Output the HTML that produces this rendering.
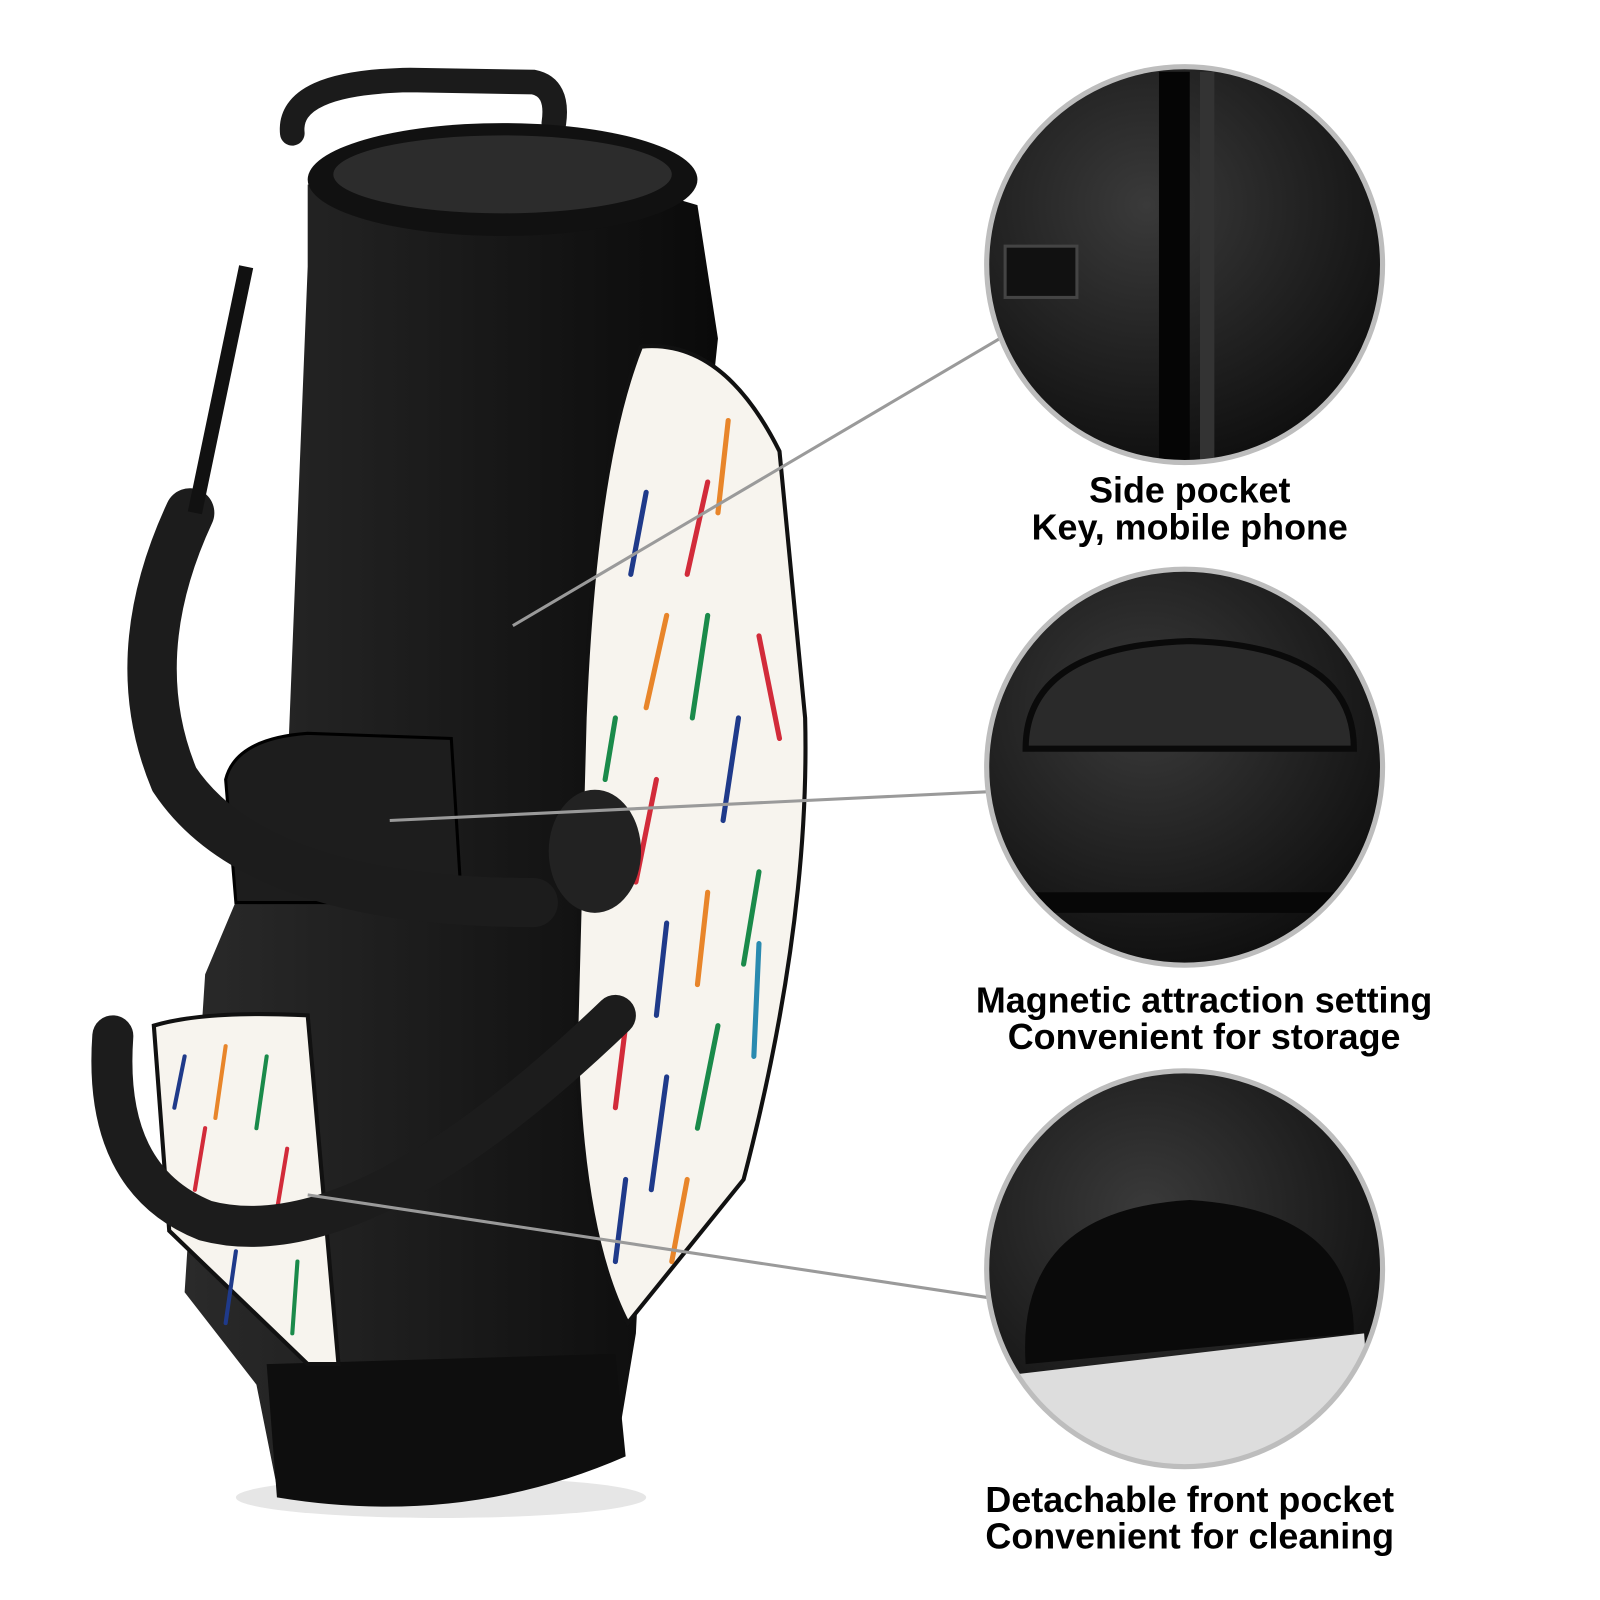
<!DOCTYPE html>
<html><head><meta charset="utf-8"><style>
html,body{margin:0;padding:0;background:#fff;width:1600px;height:1600px;overflow:hidden}
svg{display:block}
text{font-family:"Liberation Sans",sans-serif;font-weight:bold;fill:#000}
</style></head><body>
<svg width="1600" height="1600" viewBox="0 0 1560 1560" xmlns="http://www.w3.org/2000/svg">
<defs>
<radialGradient id="lea" cx="40%" cy="35%" r="70%"><stop offset="0" stop-color="#3a3a3a"/><stop offset="1" stop-color="#0c0c0c"/></radialGradient>
<linearGradient id="body" x1="0" x2="1"><stop offset="0" stop-color="#2a2a2a"/><stop offset="0.5" stop-color="#1a1a1a"/><stop offset="1" stop-color="#0a0a0a"/></linearGradient>
<clipPath id="c1"><circle cx="1155" cy="258" r="193"/></clipPath>
<clipPath id="c2"><circle cx="1155" cy="748" r="193"/></clipPath>
<clipPath id="c3"><circle cx="1155" cy="1237" r="193"/></clipPath>
</defs>
<ellipse cx="430" cy="1460" rx="200" ry="20" fill="#e6e6e6"/>
<path d="M285,130 Q280,80 400,78 L520,80 Q545,85 540,120" fill="none" stroke="#1b1b1b" stroke-width="24" stroke-linecap="round"/>
<path d="M300,180 Q480,140 680,200 L700,330 L640,900 L620,1300 L600,1420 Q450,1480 270,1450 L250,1350 L180,1260 L200,950 L280,760 L300,260 Z" fill="url(#body)"/>
<ellipse cx="490" cy="175" rx="190" ry="55" fill="#111"/>
<ellipse cx="490" cy="170" rx="165" ry="38" fill="#2c2c2c"/>
<path d="M260,1330 L600,1320 L610,1420 Q450,1490 270,1460 Z" fill="#0e0e0e"/>
<path d="M220,760 Q230,720 300,715 L440,720 L450,880 L230,880 Z" fill="#1d1d1d" stroke="#000" stroke-width="3"/>
<path d="M625,338 Q705,330 760,440 L785,700 Q790,900 725,1150 L612,1290 Q565,1200 562,1000 L570,700 Q580,450 625,338 Z" fill="#f7f4ee" stroke="#111" stroke-width="4"/>
<g stroke-width="5" stroke-linecap="round">
<line x1="630" y1="480" x2="615" y2="560" stroke="#1f3a8a"/><line x1="710" y1="410" x2="700" y2="500" stroke="#e8852a"/>
<line x1="690" y1="470" x2="670" y2="560" stroke="#d22b3a"/><line x1="650" y1="600" x2="630" y2="690" stroke="#e8852a"/>
<line x1="690" y1="600" x2="675" y2="700" stroke="#1a8a4a"/><line x1="740" y1="620" x2="760" y2="720" stroke="#d22b3a"/>
<line x1="600" y1="700" x2="590" y2="760" stroke="#1a8a4a"/><line x1="720" y1="700" x2="705" y2="800" stroke="#1f3a8a"/>
<line x1="640" y1="760" x2="620" y2="860" stroke="#d22b3a"/><line x1="740" y1="850" x2="725" y2="940" stroke="#1a8a4a"/>
<line x1="690" y1="870" x2="680" y2="960" stroke="#e8852a"/><line x1="650" y1="900" x2="640" y2="990" stroke="#1f3a8a"/>
<line x1="700" y1="1000" x2="680" y2="1100" stroke="#1a8a4a"/><line x1="610" y1="1000" x2="600" y2="1080" stroke="#d22b3a"/>
<line x1="650" y1="1050" x2="635" y2="1160" stroke="#1f3a8a"/><line x1="740" y1="920" x2="735" y2="1030" stroke="#2a8ab0"/>
<line x1="670" y1="1150" x2="655" y2="1230" stroke="#e8852a"/><line x1="610" y1="1150" x2="600" y2="1230" stroke="#1f3a8a"/>
</g>
<path d="M150,1000 Q200,985 300,990 L330,1330 L300,1330 L165,1200 Z" fill="#f7f4ee" stroke="#111" stroke-width="4"/>
<g stroke-width="4" stroke-linecap="round">
<line x1="180" y1="1030" x2="170" y2="1080" stroke="#1f3a8a"/><line x1="220" y1="1020" x2="210" y2="1090" stroke="#e8852a"/>
<line x1="260" y1="1030" x2="250" y2="1100" stroke="#1a8a4a"/><line x1="200" y1="1100" x2="190" y2="1160" stroke="#d22b3a"/>
<line x1="280" y1="1120" x2="270" y2="1180" stroke="#d22b3a"/><line x1="230" y1="1220" x2="220" y2="1290" stroke="#1f3a8a"/>
<line x1="290" y1="1230" x2="285" y2="1300" stroke="#1a8a4a"/>
</g>
<path d="M185,500 Q120,640 170,760 Q250,880 520,880" fill="none" stroke="#1c1c1c" stroke-width="48" stroke-linecap="round"/>
<path d="M110,1010 Q100,1150 200,1190 Q350,1230 600,990" fill="none" stroke="#1c1c1c" stroke-width="40" stroke-linecap="round"/>
<path d="M240,260 L190,500" stroke="#111" stroke-width="14"/>
<ellipse cx="580" cy="830" rx="45" ry="60" fill="#222"/>
<g stroke="#9a9a9a" stroke-width="3">
<line x1="500" y1="610" x2="975" y2="330"/>
<line x1="380" y1="800" x2="962" y2="772"/>
<line x1="300" y1="1165" x2="962" y2="1265"/>
</g>
<g clip-path="url(#c1)"><rect x="950" y="60" width="420" height="400" fill="url(#lea)"/>
<rect x="1130" y="70" width="30" height="380" fill="#050505"/><rect x="1170" y="70" width="14" height="380" fill="#333"/>
<rect x="980" y="240" width="70" height="50" fill="#111" stroke="#444" stroke-width="3"/></g>
<circle cx="1155" cy="258" r="193" fill="none" stroke="#bdbdbd" stroke-width="5"/>
<g clip-path="url(#c2)"><rect x="950" y="550" width="420" height="400" fill="url(#lea)"/>
<path d="M1000,730 Q1000,630 1160,625 Q1320,630 1320,730 Z" fill="#2a2a2a" stroke="#0a0a0a" stroke-width="6"/>
<rect x="960" y="870" width="400" height="20" fill="#070707"/></g>
<circle cx="1155" cy="748" r="193" fill="none" stroke="#bdbdbd" stroke-width="5"/>
<g clip-path="url(#c3)"><rect x="950" y="1040" width="420" height="400" fill="url(#lea)"/>
<path d="M1000,1330 Q990,1180 1160,1170 Q1320,1180 1320,1300 Z" fill="#0a0a0a"/>
<path d="M990,1340 L1330,1300 L1340,1440 L990,1440 Z" fill="#ddd"/></g>
<circle cx="1155" cy="1237" r="193" fill="none" stroke="#bdbdbd" stroke-width="5"/>
<g font-size="35" text-anchor="middle">
<text x="1160" y="490">Side pocket</text>
<text x="1160" y="526">Key, mobile phone</text>
<text x="1174" y="987">Magnetic attraction setting</text>
<text x="1174" y="1023">Convenient for storage</text>
<text x="1160" y="1474">Detachable front pocket</text>
<text x="1160" y="1510">Convenient for cleaning</text>
</g>
</svg>
</body></html>
